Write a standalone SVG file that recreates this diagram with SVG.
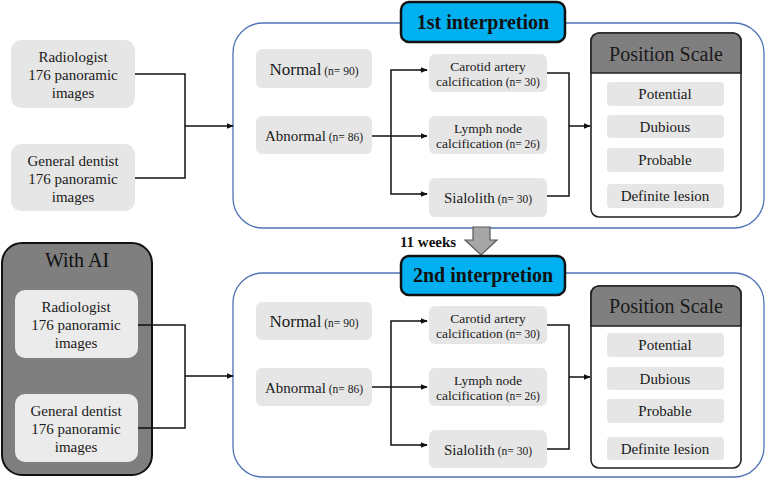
<svg xmlns="http://www.w3.org/2000/svg" width="767" height="480" viewBox="0 0 767 480">
<defs>
<marker id="ah" viewBox="0 0 10 10" refX="9" refY="5" markerWidth="7" markerHeight="7" markerUnits="userSpaceOnUse" orient="auto"><path d="M0,1 L10,5 L0,9 z" fill="#111"/></marker>
<style>
.lb{fill:#e6e6e6}
.lb2{fill:#ebebeb}
.big{fill:#fff;stroke:#4f73b6;stroke-width:1.3}
.ttl{fill:#00b0f0;stroke:#111;stroke-width:2.5}
.ps{fill:#fff;stroke:#222;stroke-width:1.6}
.psh{fill:#7f7f7f;stroke:#222;stroke-width:1.6}
.c{fill:none;stroke:#111;stroke-width:1.5}
</style>
</defs>
<g font-family="Liberation Serif, serif" text-anchor="middle" fill="#1a1a1a">
<g id="radiologist1"><rect class="lb" x="11" y="40" width="124" height="68" rx="10"/>
<text font-size="15" x="73" y="62">Radiologist</text><text font-size="15" x="73" y="80">176 panoramic</text><text font-size="15" x="73" y="98">images</text></g>
<g id="dentist1"><rect class="lb" x="11" y="144" width="124" height="67" rx="10"/>
<text font-size="15" x="73" y="166">General dentist</text><text font-size="15" x="73" y="184">176 panoramic</text><text font-size="15" x="73" y="202">images</text></g>

<g id="stage1"><rect class="big" x="233" y="23" width="531" height="205" rx="30"/></g>
<g id="title1"><rect class="ttl" x="401" y="2" width="164" height="40" rx="8"/><text font-size="20" font-weight="bold" fill="#111" x="483" y="29">1st interpretion</text></g>

<g id="normal1"><rect class="lb" x="256" y="49" width="116" height="39" rx="6"/><text x="314" y="75"><tspan font-size="17">Normal</tspan><tspan font-size="11.5"> (n= 90)</tspan></text></g>
<g id="abnormal1"><rect class="lb" x="256" y="116" width="116" height="38" rx="6"/><text x="314" y="141"><tspan font-size="15">Abnormal</tspan><tspan font-size="11.5"> (n= 86)</tspan></text></g>
<g id="carotid1"><rect class="lb" x="429" y="54" width="118" height="38" rx="6"/><text font-size="13.5" x="488" y="71">Carotid artery</text><text x="488" y="86"><tspan font-size="13.5">calcification</tspan><tspan font-size="11.5"> (n= 30)</tspan></text></g>
<g id="lymph1"><rect class="lb" x="429" y="116" width="118" height="38" rx="6"/><text font-size="13.5" x="488" y="133">Lymph node</text><text x="488" y="148"><tspan font-size="13.5">calcification</tspan><tspan font-size="11.5"> (n= 26)</tspan></text></g>
<g id="sialolith1"><rect class="lb" x="429" y="178" width="118" height="39" rx="6"/><text x="488" y="203"><tspan font-size="15">Sialolith</tspan><tspan font-size="11.5"> (n= 30)</tspan></text></g>

<g id="scale1"><rect class="ps" x="591" y="33" width="150" height="184" rx="8"/><path class="psh" d="M591,73 V41 a8,8 0 0 1 8,-8 H733 a8,8 0 0 1 8,8 V73 Z"/>
<text font-size="20" x="666" y="61">Position Scale</text>
<rect class="lb" x="607" y="82" width="117" height="24" rx="4"/><text font-size="15" x="665" y="99">Potential</text>
<rect class="lb" x="607" y="115" width="117" height="23" rx="4"/><text font-size="15" x="665" y="132">Dubious</text>
<rect class="lb" x="607" y="148" width="117" height="24" rx="4"/><text font-size="15" x="665" y="165">Probable</text>
<rect class="lb" x="607" y="184" width="117" height="24" rx="4"/><text font-size="15" x="665" y="201">Definite lesion</text></g>

<g id="weeks"><text font-size="15" font-weight="bold" fill="#111" x="428" y="247">11 weeks</text>
<path d="M473,227 H490 V240 H497 L481,255 L465,240 H473 Z" fill="#a6a6a6" stroke="#595959" stroke-width="1.2"/></g>

<g id="withAI"><rect x="2" y="243" width="150" height="232" rx="20" fill="#7f7f7f" stroke="#111" stroke-width="2"/>
<text font-size="20" fill="#111" x="77" y="267">With AI</text></g>
<g id="radiologist2"><rect class="lb2" x="15" y="290" width="123" height="68" rx="10"/>
<text font-size="15" x="76" y="312">Radiologist</text><text font-size="15" x="76" y="330">176 panoramic</text><text font-size="15" x="76" y="348">images</text></g>
<g id="dentist2"><rect class="lb2" x="15" y="394" width="123" height="68" rx="10"/>
<text font-size="15" x="76" y="416">General dentist</text><text font-size="15" x="76" y="434">176 panoramic</text><text font-size="15" x="76" y="452">images</text></g>

<g id="stage2"><rect class="big" x="233" y="273" width="531" height="204" rx="30"/></g>
<g id="title2"><rect class="ttl" x="401" y="256" width="164" height="39" rx="8"/><text font-size="20" font-weight="bold" fill="#111" x="483" y="282">2nd interpretion</text></g>

<g id="normal2"><rect class="lb" x="256" y="302" width="116" height="38" rx="6"/><text x="314" y="327"><tspan font-size="17">Normal</tspan><tspan font-size="11.5"> (n= 90)</tspan></text></g>
<g id="abnormal2"><rect class="lb" x="256" y="368" width="116" height="38" rx="6"/><text x="314" y="393"><tspan font-size="15">Abnormal</tspan><tspan font-size="11.5"> (n= 86)</tspan></text></g>
<g id="carotid2"><rect class="lb" x="429" y="306" width="118" height="38" rx="6"/><text font-size="13.5" x="488" y="323">Carotid artery</text><text x="488" y="338"><tspan font-size="13.5">calcification</tspan><tspan font-size="11.5"> (n= 30)</tspan></text></g>
<g id="lymph2"><rect class="lb" x="429" y="368" width="118" height="38" rx="6"/><text font-size="13.5" x="488" y="385">Lymph node</text><text x="488" y="400"><tspan font-size="13.5">calcification</tspan><tspan font-size="11.5"> (n= 26)</tspan></text></g>
<g id="sialolith2"><rect class="lb" x="429" y="430" width="118" height="38" rx="6"/><text x="488" y="455"><tspan font-size="15">Sialolith</tspan><tspan font-size="11.5"> (n= 30)</tspan></text></g>

<g id="scale2"><rect class="ps" x="591" y="286" width="150" height="182" rx="8"/><path class="psh" d="M591,326 V294 a8,8 0 0 1 8,-8 H733 a8,8 0 0 1 8,8 V326 Z"/>
<text font-size="20" x="666" y="313">Position Scale</text>
<rect class="lb" x="607" y="333" width="117" height="24" rx="4"/><text font-size="15" x="665" y="350">Potential</text>
<rect class="lb" x="607" y="367" width="117" height="23" rx="4"/><text font-size="15" x="665" y="384">Dubious</text>
<rect class="lb" x="607" y="399" width="117" height="24" rx="4"/><text font-size="15" x="665" y="416">Probable</text>
<rect class="lb" x="607" y="437" width="117" height="23" rx="4"/><text font-size="15" x="665" y="454">Definite lesion</text></g>
</g>
<g id="connectors">
<path class="c" d="M135,74 H185 V178 H135"/>
<path class="c" d="M185,126 H233" marker-end="url(#ah)"/>
<path class="c" d="M372,136 H427" marker-end="url(#ah)"/>
<path class="c" d="M427,70 H391 V194 H427"/>
<path class="c" d="M420,70 H427" marker-end="url(#ah)"/>
<path class="c" d="M420,194 H427" marker-end="url(#ah)"/>
<path class="c" d="M547,73 H569 V196 H547"/>
<path class="c" d="M569,126 H590" marker-end="url(#ah)"/>
<path class="c" d="M138,325 H185 V428 H138"/>
<path class="c" d="M185,376 H233" marker-end="url(#ah)"/>
<path class="c" d="M372,387 H427" marker-end="url(#ah)"/>
<path class="c" d="M427,321 H391 V445 H427"/>
<path class="c" d="M420,321 H427" marker-end="url(#ah)"/>
<path class="c" d="M420,445 H427" marker-end="url(#ah)"/>
<path class="c" d="M547,325 H569 V449 H547"/>
<path class="c" d="M569,377 H590" marker-end="url(#ah)"/>
</g>
</svg>
